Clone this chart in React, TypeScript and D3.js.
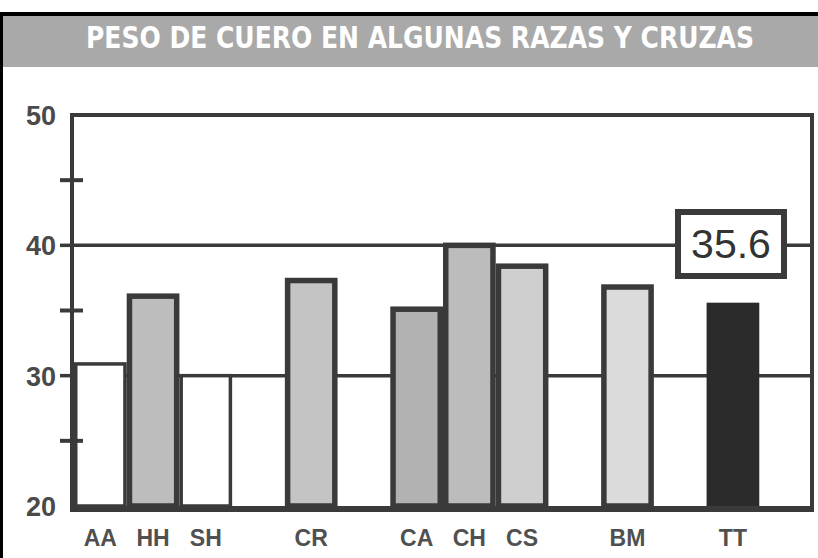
import React from "react";
import * as d3 from "d3";

// slots along the x axis, blanks are empty spaces between groups
const slots = ["AA", "HH", "SH", "g1", "CR", "g2", "CA", "CH", "CS", "g3", "BM", "g4", "TT", "g5"];
const breeds = ["AA", "HH", "SH", "CR", "CA", "CH", "CS", "BM", "TT"];
const values = [30.9, 36.1, 30.0, 37.3, 35.1, 40.0, 38.4, 36.8, 35.6];
const fills = ["#ffffff", "#bdbdbd", "#ffffff", "#c4c4c4", "#b2b2b2", "#bcbcbc", "#cfcfcf", "#dbdbdb", "#2b2b2b"];
const majorTicks = [20, 30, 40, 50];
const minorTicks = [25, 35, 45];
const highlight = "35.6";
const title = "PESO DE CUERO EN ALGUNAS RAZAS Y CRUZAS";

const W = 818, H = 558;
const left = 74, right = 812, top = 115, bottom = 506;
const ink = "#3a3a3a";

export default function App() {
  const x = d3.scaleBand().domain(slots).range([left, right]).padding(0);
  const y = d3.scaleLinear().domain([20, 50]).range([bottom, top]);
  const bw = x.bandwidth();

  return (
    <svg width={W} height={H} style={{ position: "absolute", left: 0, top: 0, background: "#fff" }}>
      {/* page frame */}
      <rect x={3} y={16} width={W - 3} height={51} fill="#a9a9a9" />
      <line x1={0} x2={W} y1={14} y2={14} stroke="#000" strokeWidth={4} />
      <line x1={1.5} x2={1.5} y1={12} y2={H} stroke="#000" strokeWidth={3} />
      <text x={420} y={48} textAnchor="middle" fill="#fff" fontFamily="'Liberation Sans Narrow', 'DejaVu Sans Condensed', 'Liberation Sans', sans-serif"
        fontWeight="bold" fontSize={30} textLength={668} lengthAdjust="spacingAndGlyphs">{title}</text>

      {/* grid lines behind the bars */}
      {[30, 40].map(v => (
        <line key={v} x1={left} x2={right} y1={y(v)} y2={y(v)} stroke={ink} strokeWidth={3.5} />
      ))}

      {/* bars */}
      {breeds.map((b, i) => {
        const dark = fills[i] === "#2b2b2b";
        const white = fills[i] === "#ffffff";
        const sw = dark ? 0 : white ? 3.5 : 5.5;
        return (
          <rect key={b} x={x(b)! + sw / 2} y={y(values[i]) } width={bw - sw} height={bottom - y(values[i])}
            fill={fills[i]} stroke={dark ? "none" : ink} strokeWidth={sw} />
        );
      })}

      {/* frame */}
      <line x1={left - 2} x2={right} y1={top} y2={top} stroke={ink} strokeWidth={4} />
      <line x1={left - 2} x2={right + 2} y1={bottom + 3} y2={bottom + 3} stroke={ink} strokeWidth={6} />
      <line x1={left - 2} x2={left - 2} y1={top - 2} y2={bottom + 6} stroke={ink} strokeWidth={4} />
      <line x1={right} x2={right} y1={top - 2} y2={bottom + 6} stroke={ink} strokeWidth={4} />

      {/* ticks */}
      {minorTicks.map(v => (
        <line key={v} x1={60} x2={83} y1={y(v)} y2={y(v)} stroke={ink} strokeWidth={4} />
      ))}
      {[30, 40].map(v => (
        <line key={"m" + v} x1={60} x2={left} y1={y(v)} y2={y(v)} stroke={ink} strokeWidth={3.5} />
      ))}
      {majorTicks.map(v => (
        <text key={"l" + v} x={56} y={y(v) + 10} textAnchor="end" fill="#4a4a4a"
          fontFamily="'Liberation Sans', Arial, sans-serif" fontWeight="bold" fontSize={27}>{v}</text>
      ))}

      {/* category labels */}
      {breeds.map(b => (
        <text key={"t" + b} x={x(b)! + bw / 2} y={546} textAnchor="middle" fill="#505050"
          fontFamily="'Liberation Sans', Arial, sans-serif" fontWeight="bold" fontSize={23}>{b}</text>
      ))}

      {/* highlighted value box */}
      <rect x={678} y={212} width={106} height={64} fill="#fff" stroke={ink} strokeWidth={6} />
      <text x={731} y={258} textAnchor="middle" fill="#333"
        fontFamily="'Liberation Sans', Arial, sans-serif" fontSize={41}>{highlight}</text>
    </svg>
  );
}
